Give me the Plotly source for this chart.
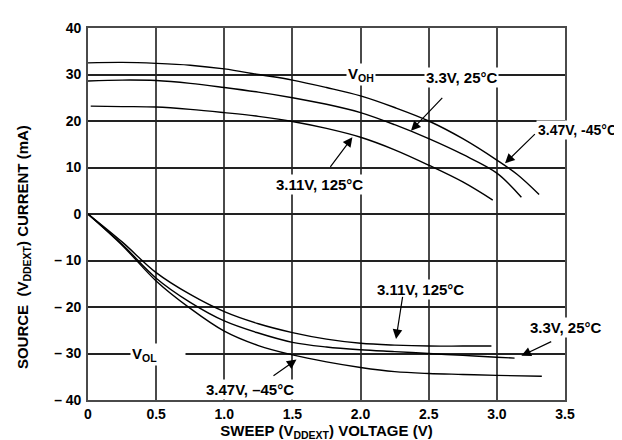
import plotly.graph_objects as go

# VOH curves (source current, mA) vs sweep voltage (V)
voh_v_m45 = [0, 0.25, 0.5, 0.75, 1.0, 1.25, 1.5, 1.75, 2.0, 2.25, 2.5, 2.75, 3.0, 3.15, 3.31]
voh_i_m45 = [32.5, 32.6, 32.4, 32.0, 31.2, 30.0, 28.8, 27.2, 25.4, 22.9, 20.0, 16.2, 11.6, 8.5, 4.2]

voh_v_25 = [0, 0.25, 0.5, 0.75, 1.0, 1.25, 1.5, 1.75, 2.0, 2.25, 2.5, 2.75, 3.0, 3.18]
voh_i_25 = [28.6, 28.8, 28.7, 28.1, 27.2, 26.2, 25.0, 23.6, 21.8, 19.2, 16.2, 12.8, 8.8, 3.6]

voh_v_125 = [0.02, 0.25, 0.5, 0.75, 1.0, 1.25, 1.5, 1.75, 2.0, 2.25, 2.5, 2.75, 2.97]
voh_i_125 = [23.2, 23.1, 23.0, 22.5, 21.8, 21.0, 19.9, 18.4, 16.5, 13.8, 10.5, 6.9, 3.0]

# VOL curves
vol_v_125 = [0, 0.25, 0.5, 0.75, 1.0, 1.25, 1.5, 1.75, 2.0, 2.25, 2.5, 2.75, 2.96]
vol_i_125 = [0, -6.0, -12.6, -17.3, -21.0, -23.6, -25.5, -26.9, -27.8, -28.2, -28.4, -28.4, -28.4]

vol_v_25 = [0, 0.25, 0.5, 0.75, 1.0, 1.25, 1.5, 1.75, 2.0, 2.25, 2.5, 2.75, 3.0, 3.13]
vol_i_25 = [0, -6.5, -13.8, -19.0, -23.0, -25.6, -27.6, -28.6, -29.2, -29.6, -30.0, -30.4, -30.8, -31.0]

vol_v_m45 = [0, 0.25, 0.5, 0.75, 1.0, 1.25, 1.5, 1.75, 2.0, 2.25, 2.5, 2.75, 3.0, 3.33]
vol_i_m45 = [0, -6.7, -14.4, -20.3, -25.2, -28.3, -30.3, -31.8, -33.0, -33.9, -34.3, -34.5, -34.7, -34.9]

x_ticks = [0, 0.5, 1.0, 1.5, 2.0, 2.5, 3.0, 3.5]
x_ticktext = ["0", "0.5", "1.0", "1.5", "2.0", "2.5", "3.0", "3.5"]
y_ticks = [-40, -30, -20, -10, 0, 10, 20, 30, 40]
y_ticktext = ["\u2013 40", "\u2013 30", "\u2013 20", "\u2013 10", "0", "10", "20", "30", "40"]

FONT = "Liberation Sans, Arial, sans-serif"


def bold(size):
    return dict(family=FONT, size=size, color='black', weight='bold')


fig = go.Figure()
for xs, ys in [(voh_v_m45, voh_i_m45), (voh_v_25, voh_i_25), (voh_v_125, voh_i_125),
               (vol_v_125, vol_i_125), (vol_v_25, vol_i_25), (vol_v_m45, vol_i_m45)]:
    fig.add_trace(go.Scatter(x=xs, y=ys, mode='lines', line=dict(color='black', width=1.4, shape='spline'),
                             showlegend=False, hoverinfo='skip'))

# text labels: text, x, y, anchor, box width, font size
labels = [
    ("V<sub>OH</sub>", 2.0, 30.0, 'center', None, 15),
    ("3.3V, 25°C", 2.74, 29.3, 'center', None, 15),
    ("3.47V, -45°C", 3.29, 18.1, 'left', None, 14),
    ("3.11V, 125°C", 1.70, 6.3, 'center', None, 15),
    ("3.11V, 125°C", 2.44, -16.3, 'center', None, 15),
    ("3.3V, 25°C", 3.5, -24.3, 'center', None, 15),
    ("V<sub>OL</sub>", 0.31, -30.3, 'left', 52, 15),
    ("3.47V, \u201345°C", 1.19, -37.7, 'center', None, 15),
]
for txt, x, y, anchor, w, fs in labels:
    ann = dict(text=txt, x=x, y=y, xref='x', yref='y', showarrow=False, xanchor=anchor,
               yanchor='middle', bgcolor='white', borderpad=1, font=bold(fs))
    if w:
        ann.update(width=w, align='left')
    fig.add_annotation(**ann)

# arrows: (head x, head y, tail x, tail y)
arrows = [
    (2.37, 17.9, 2.61, 25.3),
    (3.06, 10.9, 3.29, 17.5),
    (1.94, 16.5, 1.77, 9.8),
    (2.26, -26.9, 2.31, -17.5),
    (3.18, -30.5, 3.41, -27.3),
    (1.53, -31.3, 1.35, -35.0),
]
for hx, hy, tx, ty in arrows:
    fig.add_annotation(text='', x=hx, y=hy, ax=tx, ay=ty, xref='x', yref='y', axref='x', ayref='y',
                       showarrow=True, arrowhead=2, arrowsize=1.6, arrowwidth=1.2,
                       arrowcolor='black', standoff=0, startstandoff=0)

# y axis title as annotation (sits lower than the plot centre)
fig.add_annotation(text="SOURCE\u00a0\u00a0(V<sub>DDEXT</sub>) CURRENT (mA)", x=-0.135, y=0.41,
                   xref='paper', yref='paper', showarrow=False, textangle=-90,
                   xanchor='center', yanchor='middle', font=bold(15))

fig.update_layout(
    width=622, height=440,
    margin=dict(l=80, r=65, t=12, b=48),
    plot_bgcolor='white', paper_bgcolor='white',
    font=bold(14),
    xaxis=dict(range=[0, 3.5], tickvals=x_ticks, ticktext=x_ticktext, tickfont=bold(14),
               showgrid=True, gridcolor='#4a4a4a', gridwidth=1.6, zeroline=False,
               showline=True, linecolor='#4a4a4a', linewidth=1.6, mirror=True, ticks='',
               title=dict(text="SWEEP (V<sub>DDEXT</sub>) VOLTAGE (V)", standoff=2, font=bold(15))),
    yaxis=dict(range=[-40, 40], tickvals=y_ticks, ticktext=y_ticktext, tickfont=bold(14),
               showgrid=True, gridcolor='#222222', gridwidth=1.6, zeroline=False,
               showline=True, linecolor='#4a4a4a', linewidth=1.6, mirror=True, ticks='',
               ticklabelstandoff=2),
)

fig.write_html("out.html")
